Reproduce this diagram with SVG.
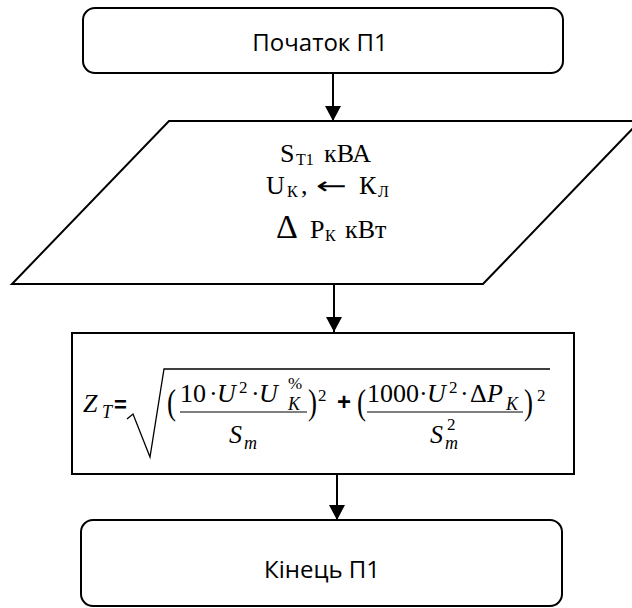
<svg xmlns="http://www.w3.org/2000/svg" width="632" height="608" viewBox="0 0 632 608">
<style>
.box{fill:#fff;stroke:#000;stroke-width:2}
.lbl{font-family:"Open Sans","Noto Sans",sans-serif;font-size:24px;fill:#000;text-anchor:middle}
.tr{font-family:"Liberation Serif","Times New Roman",serif;font-size:26px;fill:#000}
.trs{font-family:"Liberation Serif","Times New Roman",serif;font-size:16px;fill:#000}
.m{font-family:"Liberation Serif","Times New Roman",serif;font-size:26px;fill:#000}
.mp{font-family:"Liberation Serif","Times New Roman",serif;font-size:27px;fill:#000}
.mi{font-family:"Liberation Serif","Times New Roman",serif;font-size:26px;font-style:italic;fill:#000}
.ms{font-family:"Liberation Serif","Times New Roman",serif;font-size:17px;fill:#000}
.msi{font-family:"Liberation Serif","Times New Roman",serif;font-size:18px;font-style:italic;fill:#000}
.op{font-family:"Liberation Sans",Arial,sans-serif;font-weight:bold;fill:#000}
.conn line{stroke:#000;stroke-width:2}
</style>
<defs>
<marker id="ah" markerUnits="userSpaceOnUse" markerWidth="16" markerHeight="16" refX="15" refY="8" orient="auto" viewBox="0 0 16 16">
<path d="M0,0 L15,8 L0,16 Z" fill="#000"/>
</marker>
</defs>
<rect width="632" height="608" fill="#fff"/>
<g id="start">
<rect class="box" x="83" y="8" width="480" height="65" rx="12"/>
<text class="lbl" x="320" y="51">Початок П1</text>
</g>
<g id="input">
<polygon class="box" points="169,121 640,121 483,284 12,284"/>
<text class="tr" x="280" y="162">S</text>
<text class="trs" x="296" y="165">T1</text>
<text class="tr" x="324" y="162">кВА</text>
<text class="tr" x="266" y="194">U</text>
<text class="trs" x="287" y="197">К</text>
<text class="tr" x="301" y="194">,</text>
<text x="316" y="194" font-family="DejaVu Sans" font-size="24" textLength="31" lengthAdjust="spacingAndGlyphs">←</text>
<text class="tr" x="359" y="194">К</text>
<text class="trs" x="378" y="197">Л</text>
<text x="276" y="238" font-family="Liberation Serif" font-size="34">Δ</text>
<text class="tr" x="310" y="238">Р</text>
<text class="trs" x="325" y="241">К</text>
<text class="tr" x="345" y="238">кВт</text>
</g>
<g id="calc">
<rect class="box" x="72" y="333" width="502" height="141"/>
<text class="mi" x="83" y="412" font-size="30">Z</text>
<text class="msi" x="102" y="418">T</text>
<text class="op" x="114" y="412" font-size="22">=</text>
<path d="M127,419 L133,414 L150,457 L164,369 H550" fill="none" stroke="#000" stroke-width="1.3"/>
<text class="mp" transform="translate(167,414) scale(1,1.35)">(</text>
<text class="m" x="180" y="402">10</text>
<text class="m" x="209" y="402">·</text>
<text class="mi" x="217" y="402">U</text>
<text class="ms" x="239" y="393">2</text>
<text class="m" x="251" y="402">·</text>
<text class="mi" x="259" y="402">U</text>
<text class="ms" x="288" y="389" font-size="16">%</text>
<text class="msi" x="288" y="410">K</text>
<line x1="180" y1="412" x2="307" y2="412" stroke="#000" stroke-width="1.2"/>
<text class="mi" x="229" y="443">S</text>
<text class="msi" x="244" y="449">m</text>
<text class="mp" transform="translate(308,414) scale(1,1.35)">)</text>
<text class="ms" x="318" y="401">2</text>
<text class="op" x="337" y="410" font-size="24">+</text>
<text class="mp" transform="translate(357,414) scale(1,1.35)">(</text>
<text class="m" x="367" y="402" font-size="23">1000</text>
<text class="m" x="419" y="402">·</text>
<text class="mi" x="427" y="402">U</text>
<text class="ms" x="449" y="393">2</text>
<text class="m" x="460" y="402">·</text>
<text class="m" x="470" y="402">Δ</text>
<text class="mi" x="487" y="402">P</text>
<text class="msi" x="506" y="410">K</text>
<line x1="367" y1="412" x2="523" y2="412" stroke="#000" stroke-width="1.2"/>
<text class="mi" x="430" y="443">S</text>
<text class="msi" x="445" y="449">m</text>
<text class="ms" x="447" y="430">2</text>
<text class="mp" transform="translate(524,414) scale(1,1.35)">)</text>
<text class="ms" x="537" y="401">2</text>
</g>
<g id="end">
<rect class="box" x="81" y="520" width="481" height="86" rx="12"/>
<text class="lbl" x="322" y="578">Кінець П1</text>
</g>
<g id="connectors" class="conn">
<line x1="333" y1="73" x2="333" y2="121" marker-end="url(#ah)"/>
<line x1="334" y1="284" x2="334" y2="332" marker-end="url(#ah)"/>
<line x1="337" y1="474" x2="337" y2="520" marker-end="url(#ah)"/>
</g>
</svg>
